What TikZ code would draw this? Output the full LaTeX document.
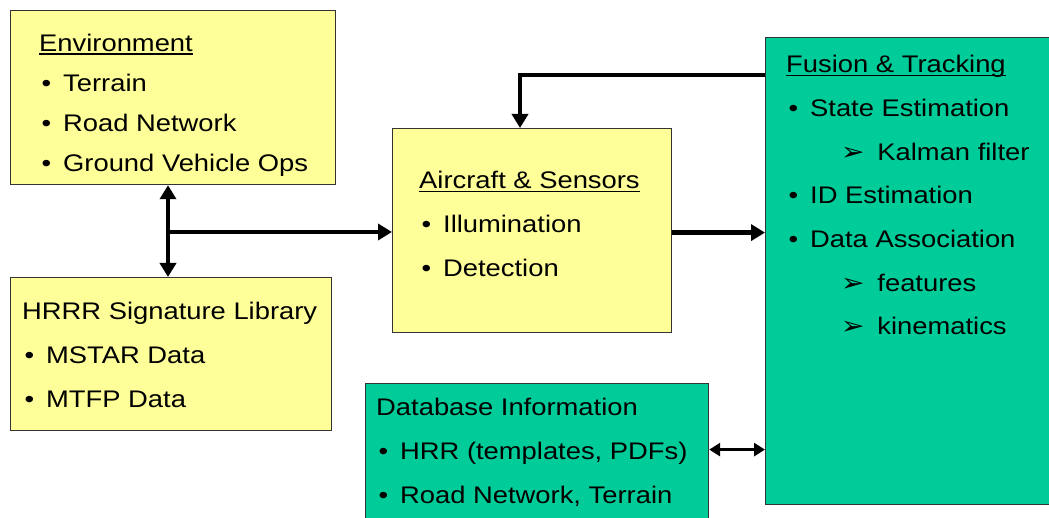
\documentclass[tikz,border=0pt]{standalone}
\usepackage{fontspec}
\setmainfont{Liberation Sans}
\newfontfamily\symfont{DejaVu Sans}
\usetikzlibrary{arrows.meta}
\definecolor{boxyellow}{HTML}{FFFF99}
\definecolor{boxgreen}{HTML}{00CC99}
\newcommand\ttl[1]{\setbox0\hbox{#1}\rlap{\rule[-3.5pt]{\wd0}{1.2pt}}\box0}
\newcommand\itm{\makebox[21pt][l]{\hspace{2pt}\textbullet}}
\newcommand\subitm{\hspace{48pt}\makebox[32pt][l]{\symfont\bfseries\fontsize{25}{25}\selectfont ➢}}

\begin{document}
\begin{tikzpicture}[x=1pt,y=-1pt,
  >={Triangle[length=14pt,width=16pt]},
  box/.style={draw=black!80,line width=1.2pt,anchor=north west,inner sep=0pt},
  ybox/.style={box,fill=boxyellow},
  gbox/.style={box,fill=boxgreen},
  txt/.style={anchor=base west,align=left,inner sep=0pt,xscale=1.14,font=\fontsize{24}{44}\selectfont},
  link/.style={line width=4.5pt},
  dlink/.style={line width=3pt,{Triangle[length=11pt,width=13pt]}-{Triangle[length=11pt,width=13pt]}}]
\useasboundingbox (0,0) rectangle (1049,518);
\clip (0,0) rectangle (1049,518);
% boxes
\node[ybox,minimum width=325pt,minimum height=174pt] (env) at (10,10) {};
\node[ybox,minimum width=321pt,minimum height=153pt] (lib) at (10,277) {};
\node[ybox,minimum width=279pt,minimum height=204pt] (air) at (392,128) {};
\node[gbox,minimum width=320pt,minimum height=467pt] (fus) at (765,37) {};
\node[gbox,minimum width=343pt,minimum height=150pt] (db) at (365,383) {};
% box contents (placed by the baseline of the last line)
\node[txt,font=\fontsize{24}{40.3}\selectfont] (envtxt) at (39,172) {\ttl{Environment}\\\itm Terrain\\\itm Road Network\\\itm Ground Vehicle Ops};
\node[txt] (libtxt) at (22,407) {HRRR Signature Library\\\itm MSTAR Data\\\itm MTFP Data};
\node[txt] (airtxt) at (419,277) {\ttl{Aircraft \& Sensors}\\\itm Illumination\\\itm Detection};
\node[txt,font=\fontsize{24}{43.7}\selectfont] (fustxt) at (786,335) {\ttl{Fusion \& Tracking}\\\itm State Estimation\\\subitm Kalman filter\\\itm ID Estimation\\\itm Data Association\\\subitm features\\\subitm kinematics};
\node[txt] (dbtxt) at (376,503) {Database Information\\\itm HRR (templates, PDFs)\\\itm Road Network, Terrain};
% connectors
\coordinate (jn) at (168,232);
\coordinate (fb) at (520,75);
\draw[link,<->] (env.south -| jn) -- (lib.north -| jn);
\draw[link,->] (jn) -- (jn -| air.west);
\draw[link,->] ([yshift=-2pt]air.east) -- ([yshift=-2pt]air.east -| fus.west);
\draw[link,->] (fb -| fus.west) -- (fb) -- (fb |- air.north);
\draw[dlink] ([yshift=9pt]db.east) -- ([yshift=9pt]db.east -| fus.west);
\end{tikzpicture}
\end{document}
